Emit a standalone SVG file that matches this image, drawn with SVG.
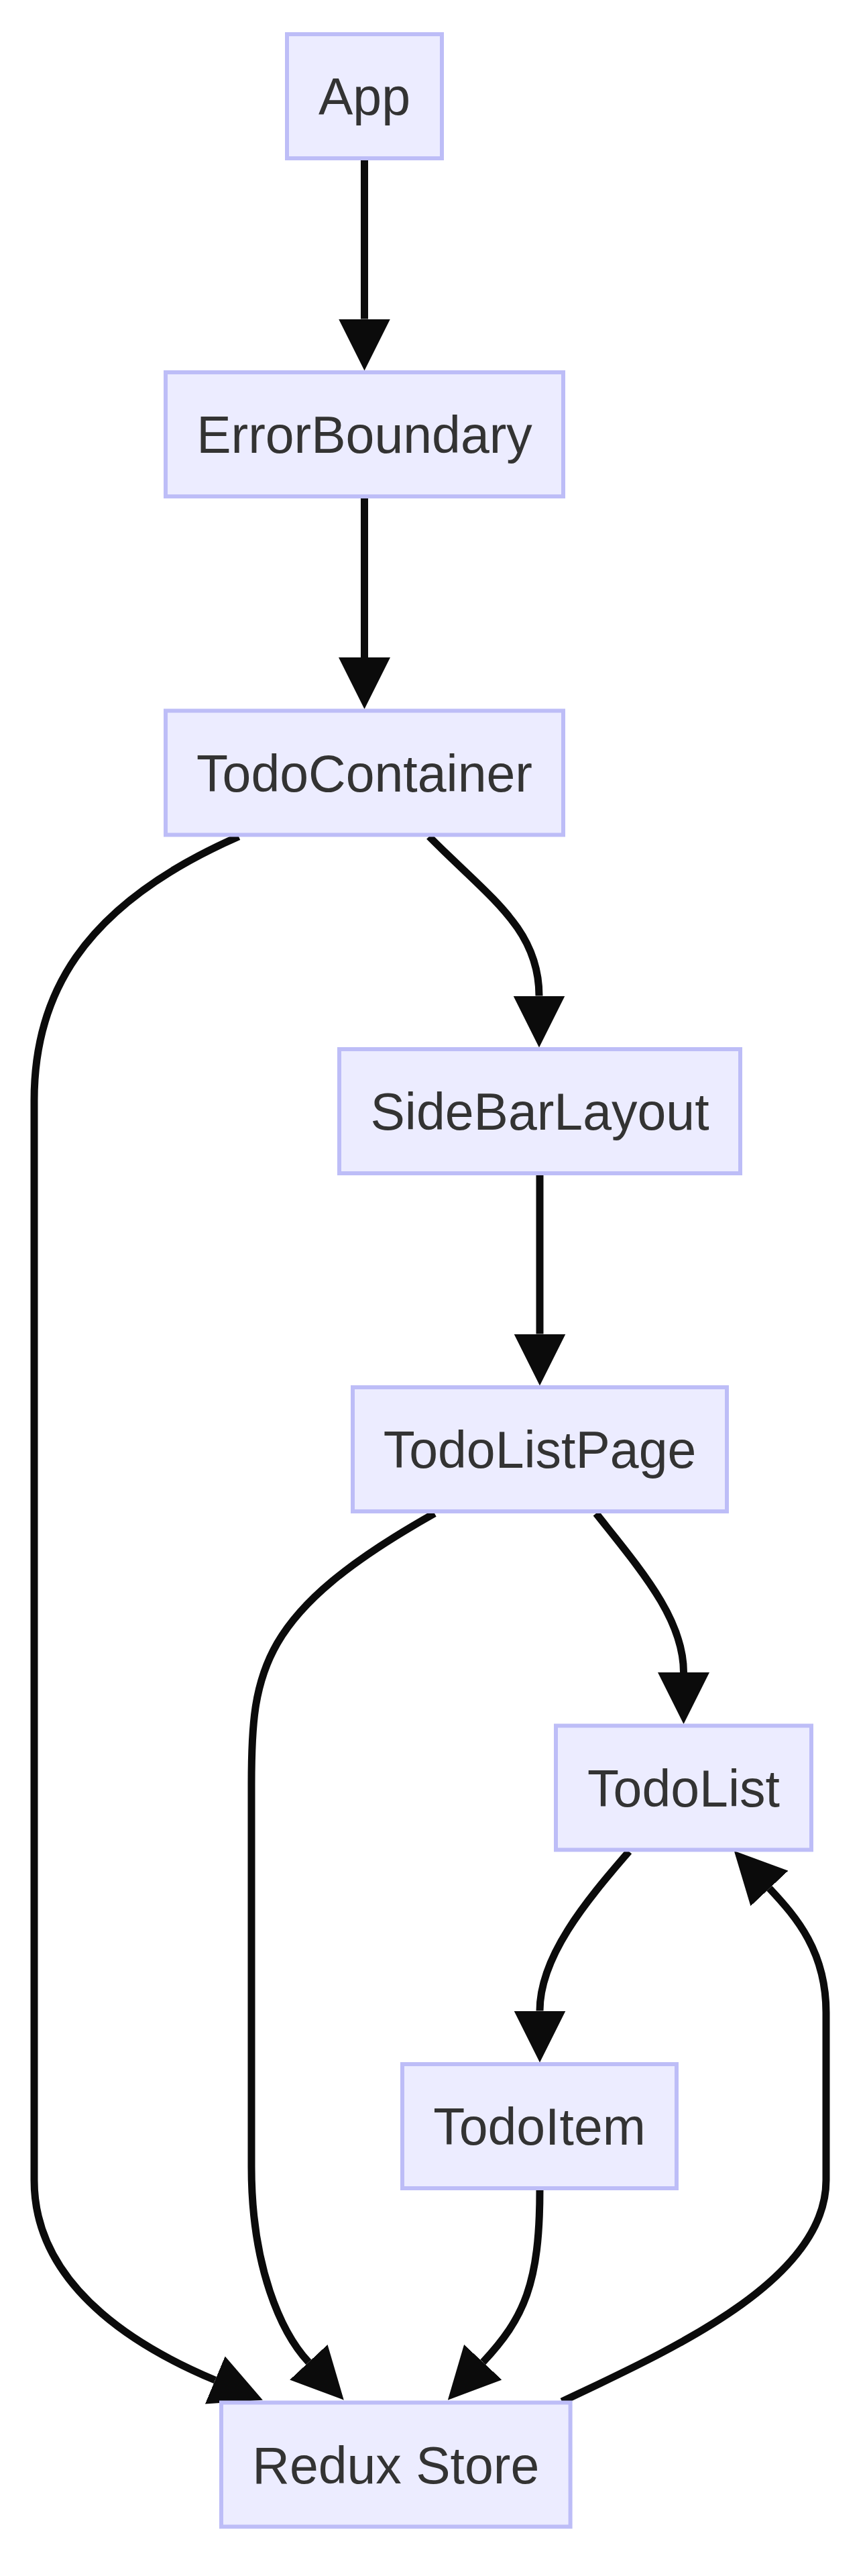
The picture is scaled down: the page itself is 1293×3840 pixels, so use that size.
<svg xmlns="http://www.w3.org/2000/svg" width="1293" height="3840" viewBox="0 0 1293 3840">
<style>
.node rect{fill:#ECECFF;stroke:#BDBDF7;stroke-width:6}
.node text{font-family:"Liberation Sans",Arial,sans-serif;font-size:77px;fill:#333333;text-anchor:middle}
.edge{fill:none;stroke:#0b0b0b;stroke-width:11;marker-end:url(#arrow)}
</style>
<defs>
<marker id="arrow" markerUnits="userSpaceOnUse" markerWidth="77" markerHeight="77" viewBox="0 0 10 10" refX="0" refY="5" orient="auto">
<path d="M0,0 L10,5 L0,10 z" fill="#0b0b0b"/>
</marker>
</defs>
<rect width="1293" height="3840" fill="#ffffff"/>
<g id="connectors">
<path id="e-app-eb" class="edge" d="M543.5,238.5 L543.5,475.5"/>
<path id="e-eb-tc" class="edge" d="M543.5,742.5 L543.5,980"/>
<path id="e-tc-sbl" class="edge" d="M640,1247 C730,1338 804,1384 804,1484.5"/>
<path id="e-tc-rs" class="edge" d="M356,1247 C116,1352 51,1490 51,1640 L51,3250 C51,3420 230,3510 320.8,3548"/>
<path id="e-sbl-tlp" class="edge" d="M805,1751.5 L805,1988.5"/>
<path id="e-tlp-rs" class="edge" d="M648,2256 C387,2403 375,2490 375,2660 L375,3230 C375,3380 419.5,3477.5 460.3,3521.3"/>
<path id="e-tlp-tl" class="edge" d="M889,2256 C957,2342 1019.5,2413.5 1019.5,2493"/>
<path id="e-tl-ti" class="edge" d="M938,2760 C872.4,2835.5 805,2917.5 805,2997.5"/>
<path id="e-ti-rs" class="edge" d="M805,3264.5 C805,3404.5 781.5,3455.6 720.3,3521.3"/>
<path id="e-rs-tl" class="edge" d="M838,3580 C1000,3503 1232,3400 1232,3250 L1232,3000 C1232,2910 1188.6,2858.7 1147.5,2815"/>
</g>
<g id="node-app" class="node"><rect x="428" y="51" width="231" height="185"/><text x="543.5" y="171">App</text></g>
<g id="node-errorboundary" class="node"><rect x="247" y="555" width="593" height="185"/><text x="543.5" y="675">ErrorBoundary</text></g>
<g id="node-todocontainer" class="node"><rect x="247" y="1059.5" width="593" height="185"/><text x="543.5" y="1179.5">TodoContainer</text></g>
<g id="node-sidebarlayout" class="node"><rect x="506" y="1564" width="598" height="185"/><text x="805" y="1684">SideBarLayout</text></g>
<g id="node-todolistpage" class="node"><rect x="526" y="2068" width="558" height="185"/><text x="805" y="2188">TodoListPage</text></g>
<g id="node-todolist" class="node"><rect x="829" y="2572.5" width="381" height="185"/><text x="1019.5" y="2692.5">TodoList</text></g>
<g id="node-todoitem" class="node"><rect x="600" y="3077" width="409" height="185"/><text x="804.5" y="3197">TodoItem</text></g>
<g id="node-reduxstore" class="node"><rect x="330" y="3581.5" width="520.6" height="185"/><text x="590.3" y="3701.5">Redux Store</text></g>
</svg>
